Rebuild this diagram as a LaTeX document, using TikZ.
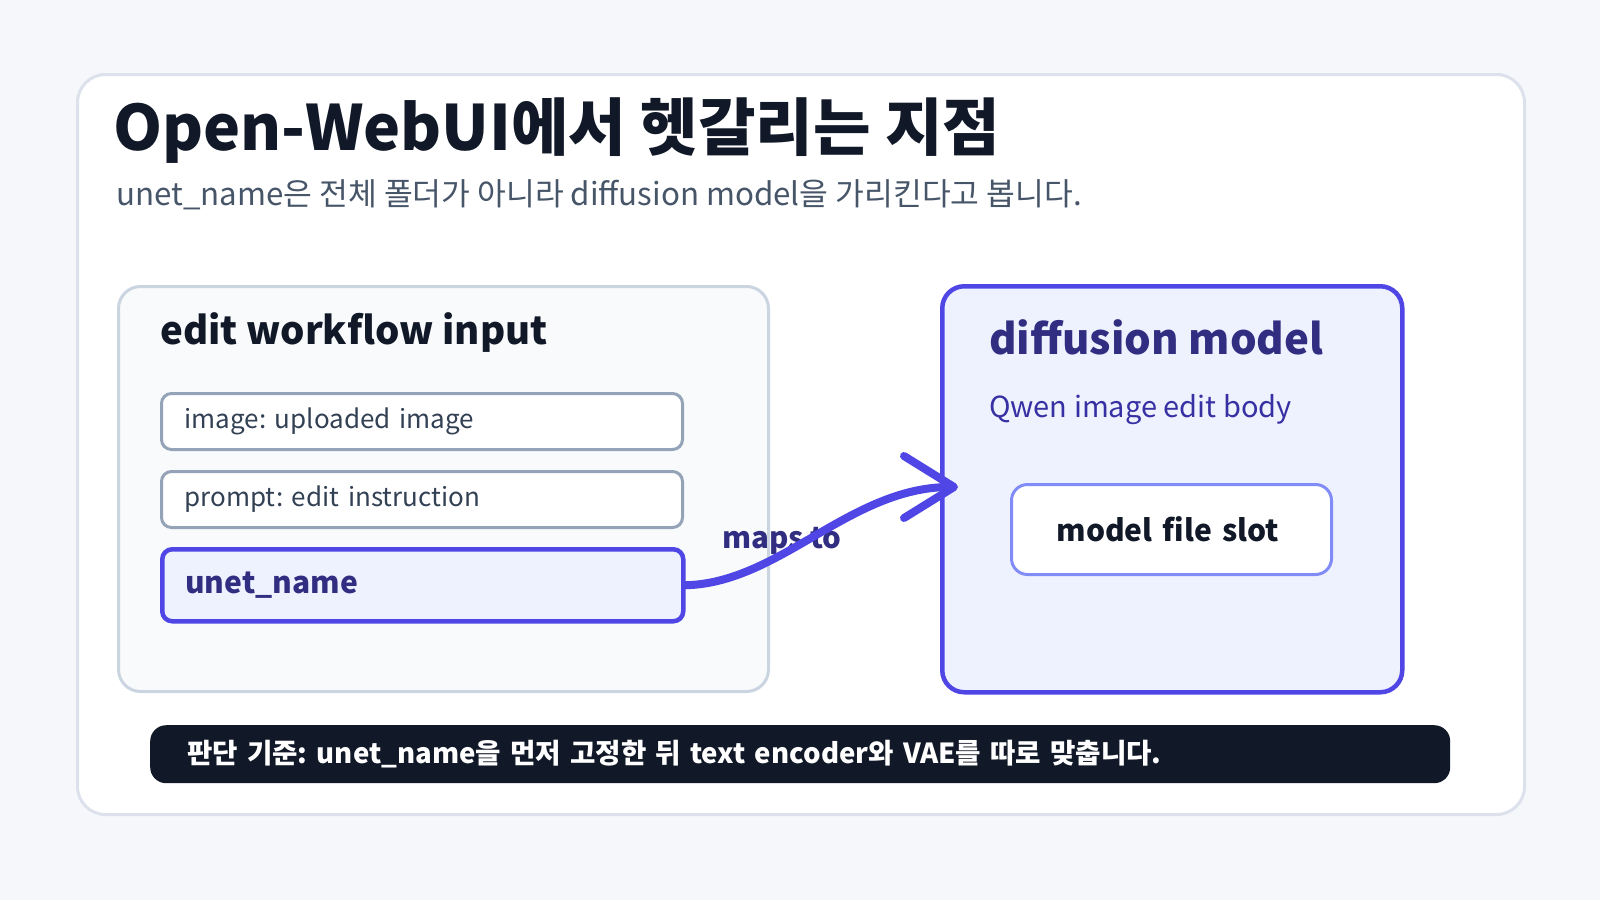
\documentclass[tikz,border=0pt]{standalone}
\usepackage{fontspec}
\setmainfont{Noto Sans CJK KR}
\usetikzlibrary{positioning,arrows.meta}
\frenchspacing

\definecolor{pagebg}{HTML}{F5F7FB}
\definecolor{cardline}{HTML}{DCE1EC}
\definecolor{panelfill}{HTML}{F8FAFC}
\definecolor{panelline}{HTML}{CBD5E1}
\definecolor{fieldline}{HTML}{94A3B8}
\definecolor{fieldtext}{HTML}{334155}
\definecolor{indigo}{HTML}{4F46E5}
\definecolor{indigolight}{HTML}{EEF2FF}
\definecolor{indigodark}{HTML}{312E81}
\definecolor{indigomid}{HTML}{3730A3}
\definecolor{slotline}{HTML}{818CF8}
\definecolor{ink}{HTML}{111827}
\definecolor{subgrey}{HTML}{475569}

\tikzset{
    panel/.style={draw, rounded corners=22pt, line width=3pt, inner sep=0pt, anchor=north west},
    field/.style={draw=fieldline, fill=white, rounded corners=10pt, line width=3pt, anchor=north west,
        minimum width=521pt, minimum height=56pt, text width=475pt, inner xsep=23pt, align=left,
        text=fieldtext, font=\fontsize{26}{30}\selectfont},
    mapline/.style={draw=indigo, line width=8pt, line cap=round,
        -{Straight Barb[length=50pt,width=62pt,round]}}
}

\begin{document}
\begin{tikzpicture}[x=1pt, y=-1pt]
    %Page background and card
    \useasboundingbox (0,0) rectangle (1600,900);
    \fill[pagebg] (0,0) rectangle (1600,900);
    \node[draw=cardline, fill=white, rounded corners=28pt, line width=3pt, inner sep=0pt, anchor=north west,
        minimum width=1447pt, minimum height=740pt] (card) at (76,73) {};

    %Place title nodes
    \node[anchor=base west, inner sep=0pt, text=ink, font=\fontsize{62.5}{68}\selectfont\bfseries] (title) at (113,150) {Open-WebUI에서 헷갈리는 지점};
    \node[anchor=base west, inner sep=0pt, text=subgrey, font=\fontsize{31.3}{36}\selectfont] (subtitle) at (116,205) {unet\_name은 전체 폴더가 아니라 diffusion model을 가리킨다고 봅니다.};

    %Place workflow panel
    \node[panel, draw=panelline, fill=panelfill, minimum width=650pt, minimum height=405pt] (workflow) at (117,285) {};
    \node[anchor=base west, inner sep=0pt, text=ink, font=\fontsize{38.4}{44}\selectfont\bfseries] (workflow-title) at (160,344) {edit workflow input};

    %Place input field nodes
    \node[field] (image) at (160,392) {image: uploaded image};
    \node[field] (prompt) at (160,470) {prompt: edit instruction};
    \node[field, draw=indigo, fill=indigolight, line width=4.5pt, minimum height=72pt, text=indigodark,
        font=\fontsize{30}{36}\selectfont\bfseries] (unet) at (160,547) {unet\_name};

    %Place diffusion model panel
    \node[panel, draw=indigo, fill=indigolight, line width=4.5pt, minimum width=460pt, minimum height=406pt] (diffusion) at (940,284) {};
    \node[anchor=base west, inner sep=0pt, text=indigodark, font=\fontsize{42}{48}\selectfont\bfseries] (diffusion-title) at (989,354) {diffusion model};
    \node[anchor=base west, inner sep=0pt, text=indigomid, font=\fontsize{29}{34}\selectfont] (diffusion-body) at (989,417) {Qwen image edit body};

    %Place model file slot node
    \node[draw=slotline, fill=white, rounded corners=16pt, line width=3pt, anchor=north west,
        minimum width=320pt, minimum height=90pt, text width=300pt, inner xsep=10pt, align=left,
        text=ink, font=\fontsize{30}{36}\selectfont\bfseries] (slot) at (1010,483) {\hspace*{35pt}model file slot};

    %Place decision bar
    \node[fill=ink, rounded corners=16pt, anchor=north west, minimum width=1300pt, minimum height=58pt,
        text width=1300pt, inner xsep=0pt, align=left, text=white, font=\fontsize{27.6}{32}\selectfont\bfseries] (decision) at (150,725)
        {\hspace*{37pt}판단 기준: unet\_name을 먼저 고정한 뒤 text encoder와 VAE를 따로 맞춥니다.};

    %Draw mapping arrow
    \node[anchor=base west, inner sep=0pt, text=indigodark, font=\fontsize{29.5}{34}\selectfont\bfseries] (maps) at (722,548) {maps to};
    \coordinate (tip) at (958,487);
    \draw[mapline] (unet.east) .. controls (780,583) and (850,487) .. (tip);
\end{tikzpicture}
\end{document}
